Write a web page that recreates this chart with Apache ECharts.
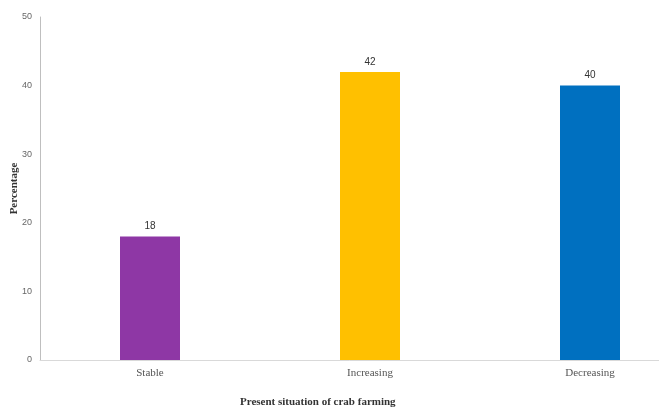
<!DOCTYPE html>
<html><head><meta charset="utf-8">
<script src="https://cdn.jsdelivr.net/npm/echarts@6/dist/echarts.min.js"></script>
<style>html,body{margin:0;padding:0;background:#fff}#c{width:659px;height:408px}</style>
</head><body><div id="c"></div>
<script>
const categories = ['Stable', 'Increasing', 'Decreasing'];
const values = [18, 42, 40];
const barColors = ['#8E37A5', '#FFC000', '#0070C0'];
const yTicks = { min: 0, max: 50, interval: 10 };
const xTitle = 'Present situation of crab farming';
const yTitle = 'Percentage';

const chart = echarts.init(document.getElementById('c'), null, { renderer: 'canvas' });
chart.setOption({
  animation: false,
  grid: { left: 40, right: -41, top: 17, bottom: 48, containLabel: false, outerBoundsMode: 'none' },
  title: {
    text: xTitle, left: 235, top: 392,
    textStyle: { fontFamily: 'Liberation Serif', fontWeight: 'bold', fontSize: 11, color: '#333' }
  },
  xAxis: {
    type: 'category', data: categories,
    axisLine: { lineStyle: { color: '#d9d9d9' } },
    axisTick: { show: false },
    axisLabel: { fontFamily: 'Liberation Serif', fontSize: 11, color: '#555', margin: 8 }
  },
  yAxis: {
    type: 'value', min: yTicks.min, max: yTicks.max, interval: yTicks.interval,
    name: yTitle, nameLocation: 'middle', nameGap: 20, nameRotate: 90, nameMoveOverlap: false,
    nameTextStyle: { fontFamily: 'Liberation Serif', fontWeight: 'bold', fontSize: 11, color: '#333' },
    axisLine: { show: true, lineStyle: { color: '#bfbfbf' } },
    axisTick: { show: false },
    splitLine: { show: false },
    axisLabel: { fontFamily: 'Liberation Sans', fontSize: 9, color: '#666', margin: 8 }
  },
  series: [{
    type: 'bar', barWidth: 60,
    data: values.map((v, i) => ({ value: v, itemStyle: { color: barColors[i] } })),
    label: { show: true, position: 'top', distance: 5, fontFamily: 'Liberation Sans', fontSize: 10, color: '#333' }
  }]
});
</script></body></html>
